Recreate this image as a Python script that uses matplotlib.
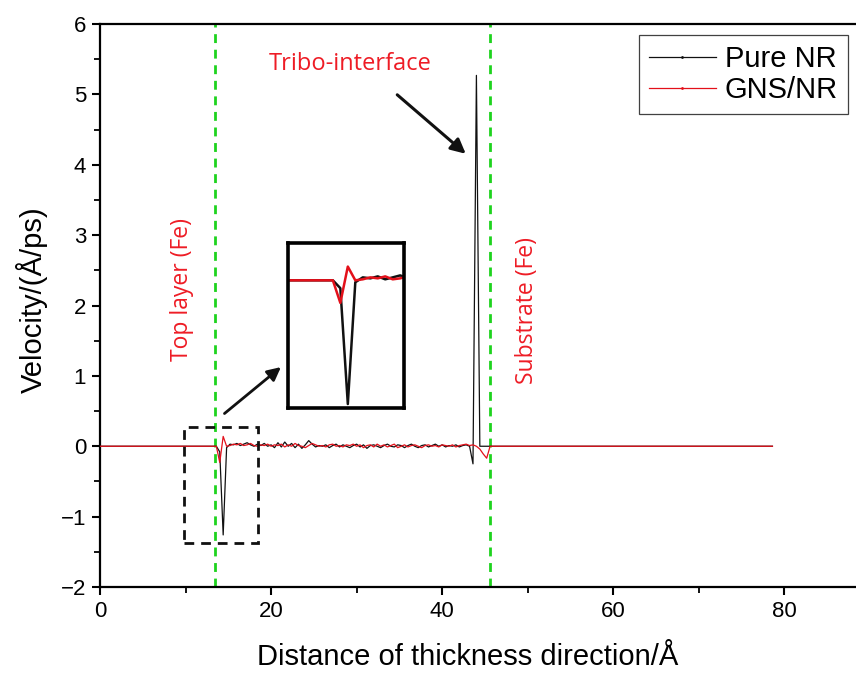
import numpy as np
import matplotlib
matplotlib.use("Agg")
from matplotlib import pyplot as plt
from matplotlib.lines import Line2D
from matplotlib.patches import Rectangle

# sampling grid through the film (Angstrom), flat ends added separately
grid = np.round(np.arange(13.2, 46.01, 0.4), 2)

# velocity of pure NR along the thickness direction
pure_nr = [0, 0, -0.08, -1.26, -0.02, 0.03, 0.02, 0.04, 0.01, 0.03,
           0.05, 0.02, 0.0, 0.03, 0.01, 0.04, 0.0, 0.02, -0.02, 0.05,
           -0.01, 0.06, 0.0, 0.04, -0.02, 0.03, -0.03, 0.02, 0.08, 0.03,
           -0.01, 0.01, 0.0, 0.02, -0.02, 0.01, 0.03, -0.01, 0.02, 0.0,
           -0.02, 0.01, 0.03, -0.01, 0.02, -0.03, 0.01, 0.02, 0.0, -0.02,
           0.01, 0.03, 0.0, -0.01, 0.02, 0.01, -0.02, 0.01, 0.03, 0.0,
           -0.02, 0.01, 0.02, -0.01, 0.01, 0.03, 0.0, 0.02, -0.01, 0.01,
           0.0, 0.02, -0.01, 0.01, 0.02, 0.0, -0.25, 5.27, 0.0, 0.0,
           0.0, 0.0, 0.0]

# velocity of GNS/NR
gns_nr = [0, 0, -0.23, 0.14, 0.0, 0.01, 0.03, 0.02, 0.04, 0.01,
          0.02, 0.04, 0.01, 0.0, 0.02, 0.01, 0.03, 0.0, 0.02, 0.01,
          0.03, -0.01, 0.02, 0.0, 0.04, 0.01, 0.0, -0.02, 0.01, 0.04,
          0.02, 0.0, 0.01, -0.01, 0.02, 0.03, 0.0, 0.01, -0.01, 0.02,
          0.01, 0.03, 0.0, 0.02, -0.02, 0.01, 0.02, -0.01, 0.03, 0.0,
          0.02, -0.01, 0.01, 0.03, -0.02, 0.0, 0.02, -0.01, 0.01, 0.02,
          0.0, -0.02, 0.01, 0.02, 0.0, 0.01, -0.01, 0.02, 0.01, 0.0,
          0.02, -0.01, 0.01, 0.02, 0.03, 0.01, 0.02, 0.0, -0.04, -0.11,
          -0.17, 0.0, 0.0]

x_start, x_end = 0.0, 78.6
top_layer_edge = 13.5
substrate_edge = 45.6

x = np.concatenate([[x_start], grid, [x_end]])
y_pure = np.concatenate([[0.0], pure_nr, [0.0]])
y_gns = np.concatenate([[0.0], gns_nr, [0.0]])

black = "#111111"
red = "#e3101a"
green = "#1ed31e"
note_red = "#ee1c25"

plt.rcParams["font.family"] = ["Liberation Sans", "DejaVu Sans"]
narrow = ["Liberation Sans Narrow", "Liberation Sans", "DejaVu Sans"]

fig = plt.figure(figsize=(8.56, 6.82), dpi=100)
ax = fig.add_axes([0.1168, 0.1393, 0.8995, 0.8255])

ax.plot(x, y_pure, color=black, lw=0.9, zorder=3)
ax.plot(x, y_gns, color=red, lw=0.9, zorder=4)

for xe in (top_layer_edge, substrate_edge):
    ax.axvline(xe, color=green, lw=2.0, ls=(0, (3.2, 2.4)), zorder=2)

ax.set_xlim(0, 90)
ax.set_ylim(-2, 6)
ax.set_xticks([0, 20, 40, 60, 80])
ax.set_xticks([10, 30, 50, 70], minor=True)
ax.set_yticks(range(-2, 7))
ax.set_yticks(np.arange(-1.5, 6, 1.0), minor=True)
ax.set_yticklabels(["\u22122", "\u22121", "0", "1", "2", "3", "4", "5", "6"])
for lab in ax.get_xticklabels():
    lab.set_family(narrow)
    lab.set_fontsize(17)
ax.tick_params(which="major", direction="out", length=6, width=1.5,
               labelsize=16, pad=4, top=False, right=False)
ax.tick_params(which="minor", direction="out", length=4, width=1.3,
               top=False, right=False)
for s in ax.spines.values():
    s.set_linewidth(1.6)
ax.spines["right"].set_visible(False)

ax.set_xlabel("Distance of thickness direction/\u00c5", family=narrow, fontsize=21)
ax.xaxis.set_label_coords(0.478, -0.1)
ax.set_ylabel("Velocity/(\u00c5/ps)", fontsize=21)
ax.yaxis.set_label_coords(-0.068, 0.51)

# dashed frame round the dip at the top layer
ax.add_patch(Rectangle((9.8, -1.38), 8.7, 1.65, fill=False, ec=black, lw=2.0,
                       ls=(0, (3.5, 2.5)), zorder=5))

# annotations
ax.text(29.2, 5.43, "Tribo-interface", color=note_red, fontsize=17,
        family="Open Sans", ha="center", va="center")
ax.text(9.6, 2.23, "Top layer (Fe)", color=note_red, fontsize=16.5,
        family="Open Sans", rotation=90, ha="center", va="center")
ax.text(49.9, 1.93, "Substrate (Fe)", color=note_red, fontsize=16.5,
        family="Open Sans", rotation=90, ha="center", va="center")
ax.annotate("", xy=(43.0, 4.13), xytext=(34.5, 5.02),
            arrowprops=dict(arrowstyle="-|>", color=black, lw=2.2,
                            mutation_scale=22))
ax.annotate("", xy=(21.4, 1.15), xytext=(14.3, 0.44),
            arrowprops=dict(arrowstyle="-|>", color=black, lw=2.0,
                            mutation_scale=20))

handles = [Line2D([], [], color=black, lw=0.9, marker=".", markersize=2),
           Line2D([], [], color=red, lw=0.9, marker=".", markersize=2)]
leg = fig.legend(handles, ["Pure NR", "GNS/NR"], loc="upper right",
                 bbox_to_anchor=(848 / 856, 1 - 35 / 682), fontsize=21,
                 frameon=True, fancybox=False, edgecolor=black,
                 handlelength=2.3, handletextpad=0.3, borderpad=0.35,
                 labelspacing=0.1, borderaxespad=0)
leg.get_frame().set_linewidth(0.9)

# enlarged view of the dip
ax_in = fig.add_axes([0.3364, 0.4018, 0.1355, 0.2419])
ax_in.plot(x, y_pure, color=black, lw=1.8)
ax_in.plot(x, y_gns, color=red, lw=1.8)
ax_in.set_xlim(11.2, 17.4)
ax_in.set_ylim(-1.30, 0.38)
ax_in.set_xticks([])
ax_in.set_yticks([])
for s in ax_in.spines.values():
    s.set_linewidth(2.6)

fig.savefig("out.png", dpi=100)
